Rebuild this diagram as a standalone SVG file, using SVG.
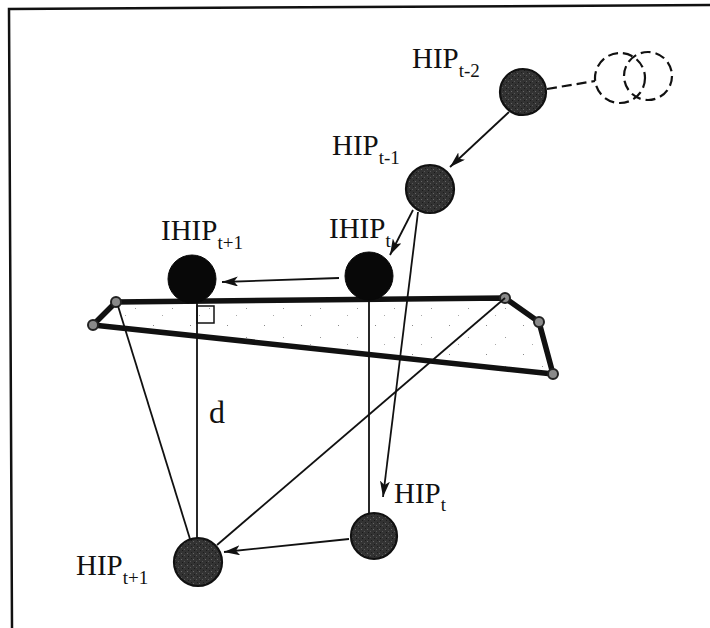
<svg xmlns="http://www.w3.org/2000/svg" width="710" height="628" viewBox="0 0 710 628">
  <defs>
    <style>
      text { font-family: "Liberation Serif", "Times New Roman", serif; fill: #111; }
      .main { font-size: 29px; }
      .sub { font-size: 19px; }
      .thin { stroke: #111; stroke-width: 1.8; fill: none; }
      .hip { fill: url(#grain); stroke: #111; stroke-width: 2.2; }
      .ihip { fill: #080808; stroke: #080808; stroke-width: 1; }
      .vtx { fill: #8a8a8a; stroke: #222; stroke-width: 2; }
      .ghost { fill: none; stroke: #111; stroke-width: 2.2; stroke-dasharray: 10 5; }
    </style>
    <pattern id="grain" width="6" height="6" patternUnits="userSpaceOnUse">
      <rect width="6" height="6" fill="#333"/>
      <rect x="1" y="1" width="1" height="1" fill="#666"/>
      <rect x="4" y="3" width="1" height="1" fill="#595959"/>
      <rect x="2" y="4" width="1" height="1" fill="#1a1a1a"/>
      <rect x="5" y="0" width="1" height="1" fill="#1e1e1e"/>
    </pattern>
    <pattern id="stipple" width="37" height="29" patternUnits="userSpaceOnUse">
      <rect width="37" height="29" fill="#fff"/>
      <rect x="5" y="6" width="1" height="1" fill="#888"/>
      <rect x="24" y="18" width="1" height="1" fill="#999"/>
      <rect x="14" y="25" width="1" height="1" fill="#aaa"/>
    </pattern>
    <marker id="arrow" viewBox="0 0 16 10" refX="16" refY="5" markerWidth="16" markerHeight="10" markerUnits="userSpaceOnUse" orient="auto">
      <path d="M0,0 L16,5 L0,10 L4,5 z" fill="#111"/>
    </marker>
  </defs>

  <rect width="710" height="628" fill="#fff"/>

  <!-- frame edges -->
  <g id="frame" stroke="#111" stroke-width="2.5" fill="none">
    <path d="M710,5 L9,9 L12,628"/>
  </g>

  <!-- surface polygon -->
  <g id="surface">
    <polygon points="116,302 505,298 539,322 553,374 93,325" fill="url(#stipple)" stroke="#111" stroke-width="5.5" stroke-linejoin="round"/>
    <circle class="vtx" cx="116" cy="302" r="5"/>
    <circle class="vtx" cx="93" cy="325" r="5"/>
    <circle class="vtx" cx="505" cy="298" r="5"/>
    <circle class="vtx" cx="539" cy="322" r="5"/>
    <circle class="vtx" cx="553" cy="374" r="5"/>
  </g>

  <!-- connectors -->
  <g id="connectors">
    <line class="ghost" x1="547" y1="89" x2="595" y2="81"/>
    <line class="thin" x1="509" y1="112" x2="450" y2="167" marker-end="url(#arrow)"/>
    <line class="thin" x1="413" y1="210" x2="390" y2="255" marker-end="url(#arrow)"/>
    <line class="thin" x1="418" y1="212" x2="383" y2="497" marker-end="url(#arrow)"/>
    <line class="thin" x1="339" y1="278" x2="222" y2="282" marker-end="url(#arrow)"/>
    <line class="thin" x1="349" y1="539" x2="224" y2="552" marker-end="url(#arrow)"/>
    <line class="thin" x1="197" y1="302" x2="197" y2="538"/>
    <line class="thin" x1="369" y1="300" x2="369" y2="513"/>
    <line class="thin" x1="118" y1="306" x2="190" y2="539"/>
    <line class="thin" x1="505" y1="298" x2="217" y2="545"/>
    <rect x="197" y="306" width="17" height="17" fill="none" stroke="#111" stroke-width="1.5"/>
  </g>

  <!-- previous positions -->
  <g id="ghost-positions">
    <circle class="ghost" cx="620" cy="78" r="25"/>
    <circle class="ghost" cx="648" cy="76" r="24"/>
  </g>

  <g id="hip-t-2">
    <circle class="hip" cx="523" cy="92" r="23"/>
    <text x="412" y="68" font-family="Liberation Serif, serif"><tspan class="main">HIP</tspan><tspan class="sub" dy="9">t-2</tspan></text>
  </g>

  <g id="hip-t-1">
    <circle class="hip" cx="430" cy="189" r="24"/>
    <text x="332" y="155" font-family="Liberation Serif, serif"><tspan class="main">HIP</tspan><tspan class="sub" dy="9">t-1</tspan></text>
  </g>

  <g id="ihip-t">
    <circle class="ihip" cx="369" cy="276" r="24"/>
    <text x="329" y="238" font-family="Liberation Serif, serif"><tspan class="main">IHIP</tspan><tspan class="sub" dy="9">t</tspan></text>
  </g>

  <g id="ihip-t1">
    <circle class="ihip" cx="192" cy="279" r="24"/>
    <text x="161" y="240" font-family="Liberation Serif, serif"><tspan class="main">IHIP</tspan><tspan class="sub" dy="9">t+1</tspan></text>
  </g>

  <g id="hip-t">
    <circle class="hip" cx="374" cy="536" r="23"/>
    <text x="394" y="503" font-family="Liberation Serif, serif"><tspan class="main">HIP</tspan><tspan class="sub" dy="8">t</tspan></text>
  </g>

  <g id="hip-t1">
    <circle class="hip" cx="198" cy="562" r="24"/>
    <text x="76" y="575" font-family="Liberation Serif, serif"><tspan class="main">HIP</tspan><tspan class="sub" dy="9">t+1</tspan></text>
  </g>

  <g id="distance-label">
    <text x="209" y="423" font-size="32" font-family="Liberation Serif, serif">d</text>
  </g>
</svg>
